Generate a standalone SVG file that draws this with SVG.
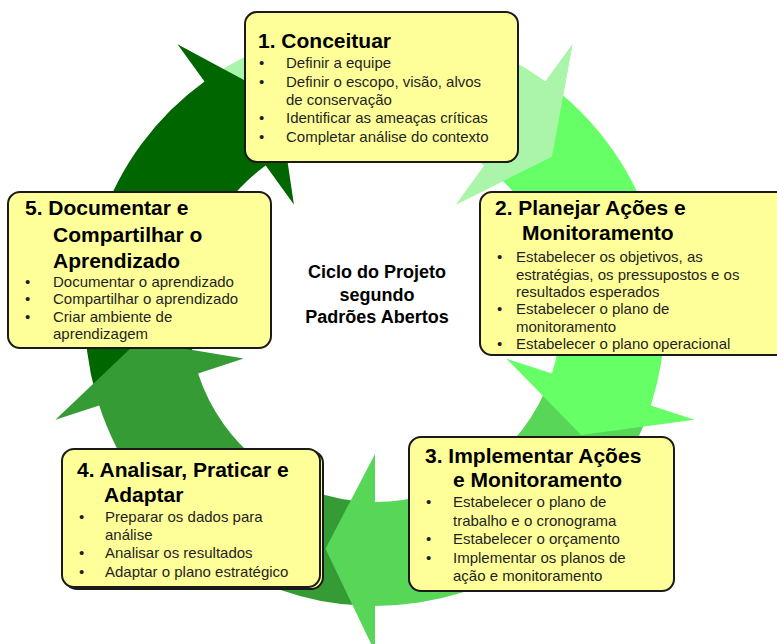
<svg xmlns="http://www.w3.org/2000/svg" width="777" height="644" viewBox="0 0 777 644">
<style>
.box{fill:#ffff99;stroke:#1a1a1a;stroke-width:2}
.t{font-family:"Liberation Sans",Arial,sans-serif;font-weight:bold;font-size:21px;fill:#000}
.b{font-family:"Liberation Sans",Arial,sans-serif;font-size:15px;fill:#1f1f1f}
.c{font-family:"Liberation Sans",Arial,sans-serif;font-weight:bold;font-size:18px;fill:#000;text-anchor:middle}
</style>
<rect width="777" height="644" fill="#ffffff"/>
<g id="connectors">
  <path id="arrow1" fill="#aaf5aa" d="M212.8 75.6 A290 290 0 0 1 545.5 81.4 L572.5 44.2 L551.9 156.8 L456.1 204.4 L484.3 165.5 A186 186 0 0 0 271.0 161.8 Z"/>
  <path id="arrow5" fill="#006600" d="M96.2 395.9 A290 290 0 0 1 204.5 81.4 L177.5 44.2 L278.2 98.6 L293.9 204.4 L265.7 165.5 A186 186 0 0 0 196.2 367.3 Z"/>
  <path id="arrow4" fill="#359c35" d="M364.9 605.8 A290 290 0 0 1 99.2 405.6 L55.4 419.8 L138.3 340.9 L243.7 358.6 L198.1 373.5 A186 186 0 0 0 368.5 501.9 Z"/>
  <path id="arrow3" fill="#57d657" d="M647.5 415.2 A290 290 0 0 1 375 606 L375 652 L325.5 548.8 L375 454 L375 502 A186 186 0 0 0 549.8 379.6 Z"/>
  <path id="arrow2" fill="#66ff66" d="M553.6 87.5 A290 290 0 0 1 650.8 405.6 L694.6 419.8 L581.1 435.0 L506.3 358.6 L551.9 373.5 A186 186 0 0 0 489.5 169.4 Z"/>
  <path id="arrow1-head" fill="#aaf5aa" d="M572.5 44.2 L551.9 156.8 L456.1 204.4 Z"/>
</g>
<g id="center-label">
  <text class="c" x="377" y="278">Ciclo do Projeto</text>
  <text class="c" x="377" y="301">segundo</text>
  <text class="c" x="377" y="323">Padrões Abertos</text>
</g>
<g id="node1">
  <rect class="box" x="245" y="12" width="273" height="150" rx="12"/>
  <text class="t" x="258" y="48">1. Conceituar</text>
  <text class="b" x="259" y="68">•</text><text class="b" x="286" y="68">Definir a equipe</text>
  <text class="b" x="259" y="86.5">•</text><text class="b" x="286" y="86.5">Definir o escopo, visão, alvos</text>
  <text class="b" x="286" y="104.5">de conservação</text>
  <text class="b" x="259" y="123">•</text><text class="b" x="286" y="123">Identificar as ameaças críticas</text>
  <text class="b" x="259" y="141.5">•</text><text class="b" x="286" y="141.5">Completar análise do contexto</text>
</g>
<g id="node2">
  <rect class="box" x="480" y="192" width="320" height="163" rx="12"/>
  <text class="t" x="495" y="215">2. Planejar Ações e</text>
  <text class="t" x="522" y="240">Monitoramento</text>
  <text class="b" x="497" y="262">•</text><text class="b" x="516" y="262">Estabelecer os objetivos, as</text>
  <text class="b" x="516" y="279.5">estratégias, os pressupostos e os</text>
  <text class="b" x="516" y="297">resultados esperados</text>
  <text class="b" x="497" y="314">•</text><text class="b" x="516" y="314">Estabelecer o plano de</text>
  <text class="b" x="516" y="331.5">monitoramento</text>
  <text class="b" x="497" y="349">•</text><text class="b" x="516" y="349">Estabelecer o plano operacional</text>
</g>
<g id="node3">
  <rect class="box" x="409" y="437" width="265" height="154" rx="12"/>
  <text class="t" x="425" y="463">3. Implementar Ações</text>
  <text class="t" x="453" y="487">e Monitoramento</text>
  <text class="b" x="426" y="507">•</text><text class="b" x="453" y="507">Estabelecer o plano de</text>
  <text class="b" x="453" y="526">trabalho e o cronograma</text>
  <text class="b" x="426" y="544">•</text><text class="b" x="453" y="544">Estabelecer o orçamento</text>
  <text class="b" x="426" y="563">•</text><text class="b" x="453" y="563">Implementar os planos de</text>
  <text class="b" x="453" y="581">ação e monitoramento</text>
</g>
<g id="node4">
  <rect class="box" x="65" y="451" width="258" height="138" rx="12"/>
  <rect class="box" x="62" y="449" width="258" height="138" rx="12"/>
  <text class="t" x="77" y="477">4. Analisar, Praticar e</text>
  <text class="t" x="104" y="502">Adaptar</text>
  <text class="b" x="79" y="522">•</text><text class="b" x="105" y="522">Preparar os dados para</text>
  <text class="b" x="105" y="540">análise</text>
  <text class="b" x="79" y="558">•</text><text class="b" x="105" y="558">Analisar os resultados</text>
  <text class="b" x="79" y="577">•</text><text class="b" x="105" y="577">Adaptar o plano estratégico</text>
</g>
<g id="node5">
  <rect class="box" x="8" y="192" width="263" height="156" rx="12"/>
  <text class="t" x="25" y="215">5. Documentar e</text>
  <text class="t" x="53" y="242">Compartilhar o</text>
  <text class="t" x="53" y="268">Aprendizado</text>
  <text class="b" x="25" y="287">•</text><text class="b" x="53" y="287">Documentar o aprendizado</text>
  <text class="b" x="25" y="304">•</text><text class="b" x="53" y="304">Compartilhar o aprendizado</text>
  <text class="b" x="25" y="321.5">•</text><text class="b" x="53" y="321.5">Criar ambiente de</text>
  <text class="b" x="53" y="338.5">aprendizagem</text>
</g>
</svg>
